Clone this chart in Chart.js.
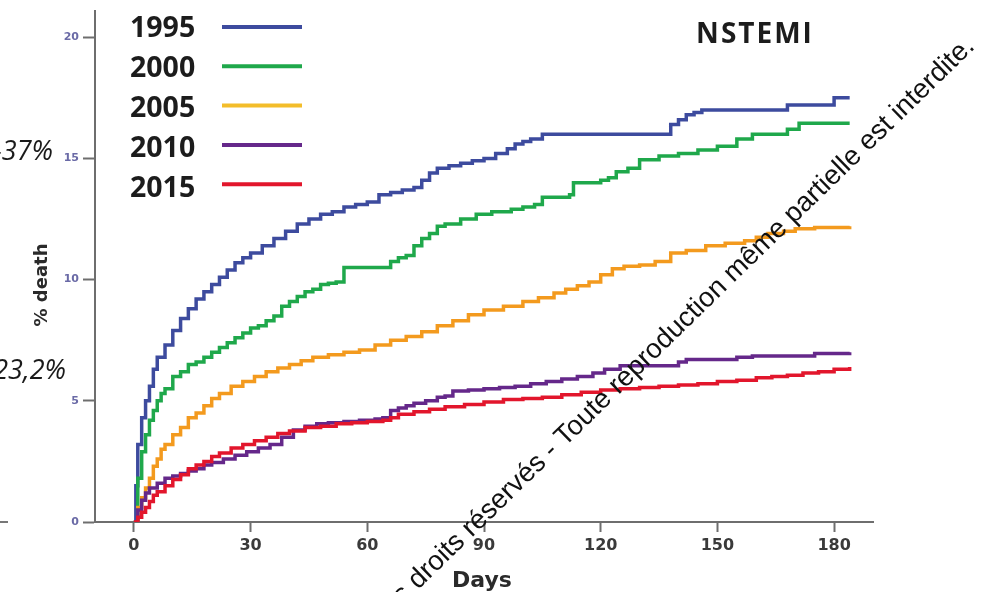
<!DOCTYPE html>
<html>
<head>
<meta charset="utf-8">
<script src="https://cdn.jsdelivr.net/npm/chart.js@4.4.1/dist/chart.umd.min.js"></script>
<style>
  html, body { margin: 0; padding: 0; background: #ffffff; }
  #wrap { width: 986px; height: 592px; position: relative; }
  canvas { display: block; }
</style>
</head>
<body>
<div id="wrap"><canvas id="c" width="986" height="592"></canvas></div>
<script>
// ---------------- DATA ----------------
const seriesNames = ['1995', '2000', '2005', '2010', '2015'];
const xTickValues = [0, 30, 60, 90, 120, 150, 180];
const yTickValues = [0, 5, 10, 15, 20];
const chartTitle = 'NSTEMI';
const xAxisTitle = 'Days';
const yAxisTitle = '% death';
const sideLabels = ['-37%', '-23,2%'];
const watermarkText = 'Tous droits réservés - Toute reproduction même partielle est interdite.';

const days1995 = [0, 0.5, 1, 2, 3, 4, 5, 6, 8, 10, 12, 14, 16, 18, 20, 22, 24, 26, 28, 30, 33, 36, 39, 42, 45, 48, 51, 54, 57, 60, 63, 66, 69, 72, 74, 76, 78, 81, 84, 87, 90, 93, 96, 98, 100, 102, 105, 137, 138, 140, 142, 144, 146, 167, 168, 179, 180, 184];
const pct1995  = [0, 1.5, 3.2, 4.3, 5.0, 5.6, 6.3, 6.8, 7.3, 7.9, 8.4, 8.8, 9.2, 9.5, 9.8, 10.1, 10.4, 10.7, 10.9, 11.1, 11.4, 11.7, 12.0, 12.3, 12.5, 12.7, 12.8, 13.0, 13.1, 13.2, 13.5, 13.6, 13.7, 13.8, 14.1, 14.4, 14.6, 14.7, 14.8, 14.9, 15.0, 15.2, 15.4, 15.6, 15.7, 15.8, 16.0, 16.0, 16.4, 16.6, 16.8, 16.9, 17.0, 17.0, 17.2, 17.2, 17.5, 17.5];

const days2000 = [0, 1, 2, 3, 4, 5, 6, 7, 8, 10, 12, 14, 16, 18, 20, 22, 24, 26, 28, 30, 32, 34, 36, 38, 40, 42, 44, 46, 48, 50, 52, 54, 64, 66, 68, 70, 72, 74, 76, 78, 80, 84, 88, 92, 97, 100, 103, 105, 112, 113, 120, 122, 124, 127, 130, 135, 140, 145, 150, 155, 159, 168, 171, 184];
const pct2000  = [0, 1.8, 2.9, 3.6, 4.2, 4.6, 5.0, 5.3, 5.5, 6.0, 6.2, 6.5, 6.6, 6.8, 7.0, 7.2, 7.4, 7.6, 7.8, 8.0, 8.1, 8.3, 8.5, 8.9, 9.1, 9.3, 9.5, 9.6, 9.8, 9.85, 9.9, 10.5, 10.5, 10.75, 10.9, 11.0, 11.4, 11.7, 11.9, 12.2, 12.3, 12.5, 12.7, 12.8, 12.9, 13.0, 13.1, 13.4, 13.5, 14.0, 14.1, 14.2, 14.45, 14.6, 14.95, 15.1, 15.2, 15.35, 15.5, 15.8, 16.0, 16.2, 16.45, 16.45];

const days2005 = [0, 1, 2, 3, 4, 5, 6, 7, 8, 10, 12, 14, 16, 18, 20, 22, 25, 28, 31, 34, 37, 40, 43, 46, 50, 54, 58, 62, 66, 70, 74, 78, 82, 86, 90, 95, 100, 104, 108, 111, 114, 117, 120, 123, 126, 130, 134, 138, 142, 147, 152, 157, 160, 163, 167, 170, 175, 184];
const pct2005  = [0, 0.6, 1.0, 1.4, 1.8, 2.3, 2.6, 3.0, 3.2, 3.6, 3.9, 4.3, 4.5, 4.8, 5.1, 5.3, 5.6, 5.8, 6.0, 6.2, 6.35, 6.5, 6.65, 6.8, 6.9, 7.0, 7.1, 7.3, 7.5, 7.65, 7.85, 8.1, 8.3, 8.55, 8.75, 8.9, 9.1, 9.25, 9.45, 9.6, 9.75, 9.9, 10.2, 10.45, 10.55, 10.6, 10.75, 11.1, 11.2, 11.4, 11.5, 11.6, 11.75, 11.9, 12.0, 12.1, 12.15, 12.2];

const days2010 = [0, 1, 2, 3, 4, 6, 8, 10, 12, 14, 16, 18, 20, 23, 26, 29, 32, 35, 38, 41, 44, 47, 50, 54, 58, 62, 64, 66, 68, 70, 72, 75, 78, 80, 82, 86, 90, 94, 98, 102, 106, 110, 114, 118, 121, 125, 140, 142, 155, 159, 175, 184];
const pct2010  = [0, 0.5, 0.9, 1.2, 1.4, 1.6, 1.8, 1.9, 2.0, 2.1, 2.2, 2.35, 2.45, 2.6, 2.75, 2.9, 3.05, 3.2, 3.5, 3.8, 3.95, 4.05, 4.1, 4.15, 4.2, 4.25, 4.3, 4.6, 4.7, 4.8, 4.9, 5.0, 5.15, 5.2, 5.4, 5.45, 5.5, 5.55, 5.6, 5.7, 5.8, 5.9, 6.0, 6.15, 6.3, 6.45, 6.6, 6.7, 6.8, 6.85, 6.95, 7.0];

const days2015 = [0, 1, 2, 3, 4, 5, 6, 8, 10, 12, 14, 16, 18, 20, 22, 25, 28, 31, 34, 37, 40, 44, 48, 52, 56, 60, 64, 66, 68, 72, 76, 80, 85, 90, 95, 100, 105, 110, 115, 120, 125, 130, 135, 140, 145, 150, 155, 160, 164, 168, 172, 176, 180, 184];
const pct2015  = [0, 0.2, 0.4, 0.6, 0.85, 1.1, 1.25, 1.5, 1.75, 1.95, 2.2, 2.35, 2.5, 2.7, 2.85, 3.05, 3.2, 3.35, 3.5, 3.65, 3.75, 3.9, 3.95, 4.05, 4.1, 4.15, 4.2, 4.3, 4.45, 4.55, 4.65, 4.75, 4.85, 4.95, 5.05, 5.1, 5.15, 5.25, 5.35, 5.45, 5.5, 5.55, 5.6, 5.65, 5.7, 5.8, 5.85, 5.95, 6.0, 6.05, 6.15, 6.2, 6.3, 6.4];

// ---------------- STYLE ----------------
const lineColors   = ['#3d4b9e', '#1fa84b', '#f39a1e', '#65288a', '#e2162c'];
const legendColors = ['#3d4b9e', '#1fa84b', '#f3bd2a', '#65288a', '#e2162c'];

const allDays = [days1995, days2000, days2005, days2010, days2015];
const allPct  = [pct1995, pct2000, pct2005, pct2010, pct2015];

const datasets = seriesNames.map((name, i) => ({
  label: name,
  data: allDays[i].map((d, j) => ({ x: d, y: allPct[i][j] })),
  stepped: true,
  borderColor: lineColors[i],
  borderWidth: 3.5,
  pointRadius: 0,
  fill: false,
  order: 5 - i
}));

const decorPlugin = {
  id: 'decor',
  afterDraw(chart) {
    const ctx = chart.ctx;
    ctx.save();
    // Legend (top-left inside plot)
    ctx.textAlign = 'left';
    ctx.textBaseline = 'alphabetic';
    ctx.font = '700 28.5px "Open Sans"';
    seriesNames.forEach((name, i) => {
      const base = 37 + i * 40;
      const ly = 27 + i * 39.3;
      ctx.fillStyle = '#1c1c1c';
      ctx.fillText(name, 130, base);
      ctx.strokeStyle = legendColors[i];
      ctx.lineWidth = 4;
      ctx.beginPath();
      ctx.moveTo(222, ly);
      ctx.lineTo(302, ly);
      ctx.stroke();
    });
    // Title
    ctx.font = '700 28px "Open Sans"';
    ctx.fillStyle = '#1c1c1c';
    ctx.textAlign = 'center';
    try { ctx.letterSpacing = '2px'; } catch (e) {}
    ctx.fillText(chartTitle, 755, 43);
    try { ctx.letterSpacing = '0px'; } catch (e) {}
    // Axis titles
    ctx.font = '700 22px "DejaVu Sans"';
    ctx.fillStyle = '#2a2a2a';
    ctx.fillText(xAxisTitle, 482, 587);
    ctx.save();
    ctx.translate(47, 285);
    ctx.rotate(-Math.PI / 2);
    ctx.font = '700 18px "DejaVu Sans"';
    ctx.textAlign = 'center';
    ctx.fillText(yAxisTitle, 0, 0);
    ctx.restore();
    // Side percent labels (cut at left edge)
    ctx.font = 'italic 27px "Open Sans"';
    ctx.fillStyle = '#1a1a1a';
    ctx.textAlign = 'right';
    ctx.fillText(sideLabels[0], 53, 160);
    ctx.fillText(sideLabels[1], 66, 379);
    // small stray tick at left edge
    ctx.strokeStyle = '#777';
    ctx.lineWidth = 2;
    ctx.beginPath();
    ctx.moveTo(0, 522);
    ctx.lineTo(8, 522);
    ctx.stroke();
    // Diagonal watermark text
    ctx.save();
    ctx.translate(418, 590);
    ctx.rotate(-44.2 * Math.PI / 180);
    ctx.font = '27.5px "Liberation Sans"';
    ctx.fillStyle = '#111';
    ctx.textAlign = 'left';
    const pre = watermarkText.slice(0, watermarkText.indexOf('droits'));
    const w = ctx.measureText(pre).width;
    ctx.fillText(watermarkText, -w, 0);
    ctx.restore();
    ctx.restore();
  }
};

function build() {
  new Chart(document.getElementById('c'), {
    type: 'line',
    data: { datasets },
    options: {
      responsive: false,
      animation: false,
      devicePixelRatio: 1,
      layout: { padding: { left: 0, right: 113, top: 8, bottom: 0 } },
      plugins: { legend: { display: false }, tooltip: { enabled: false } },
      scales: {
        x: {
          type: 'linear',
          min: -10,
          max: 190,
          afterBuildTicks: s => { s.ticks = xTickValues.map(v => ({ value: v })); },
          afterFit: s => { s.height = 70; },
          ticks: {
            font: { family: 'DejaVu Sans', weight: '700', size: 16 },
            color: '#3a3a3a',
            padding: 4,
            maxRotation: 0
          },
          grid: { display: true, drawOnChartArea: false, drawTicks: true, tickLength: 10, tickWidth: 2, tickColor: '#6e6e6e' },
          border: { display: true, color: '#6e6e6e', width: 2 }
        },
        y: {
          min: 0,
          max: 21.1,
          afterBuildTicks: s => { s.ticks = yTickValues.map(v => ({ value: v })); },
          afterFit: s => { s.width = 95; },
          ticks: {
            font: { family: 'DejaVu Sans', weight: '700', size: 11 },
            color: '#6a6aa6',
            padding: 4
          },
          grid: { display: true, drawOnChartArea: false, drawTicks: true, tickLength: 12, tickWidth: 2, tickColor: '#6e6e6e' },
          border: { display: true, color: '#6e6e6e', width: 2 }
        }
      }
    },
    plugins: [decorPlugin]
  });
}

const fontLoads = [
  '700 27px "Open Sans"', 'italic 27px "Open Sans"', '700 16px "DejaVu Sans"', '27px "Liberation Sans"'
].map(f => (document.fonts && document.fonts.load) ? document.fonts.load(f).catch(() => null) : Promise.resolve());
Promise.all(fontLoads).then(build, build);
</script>
</body>
</html>
